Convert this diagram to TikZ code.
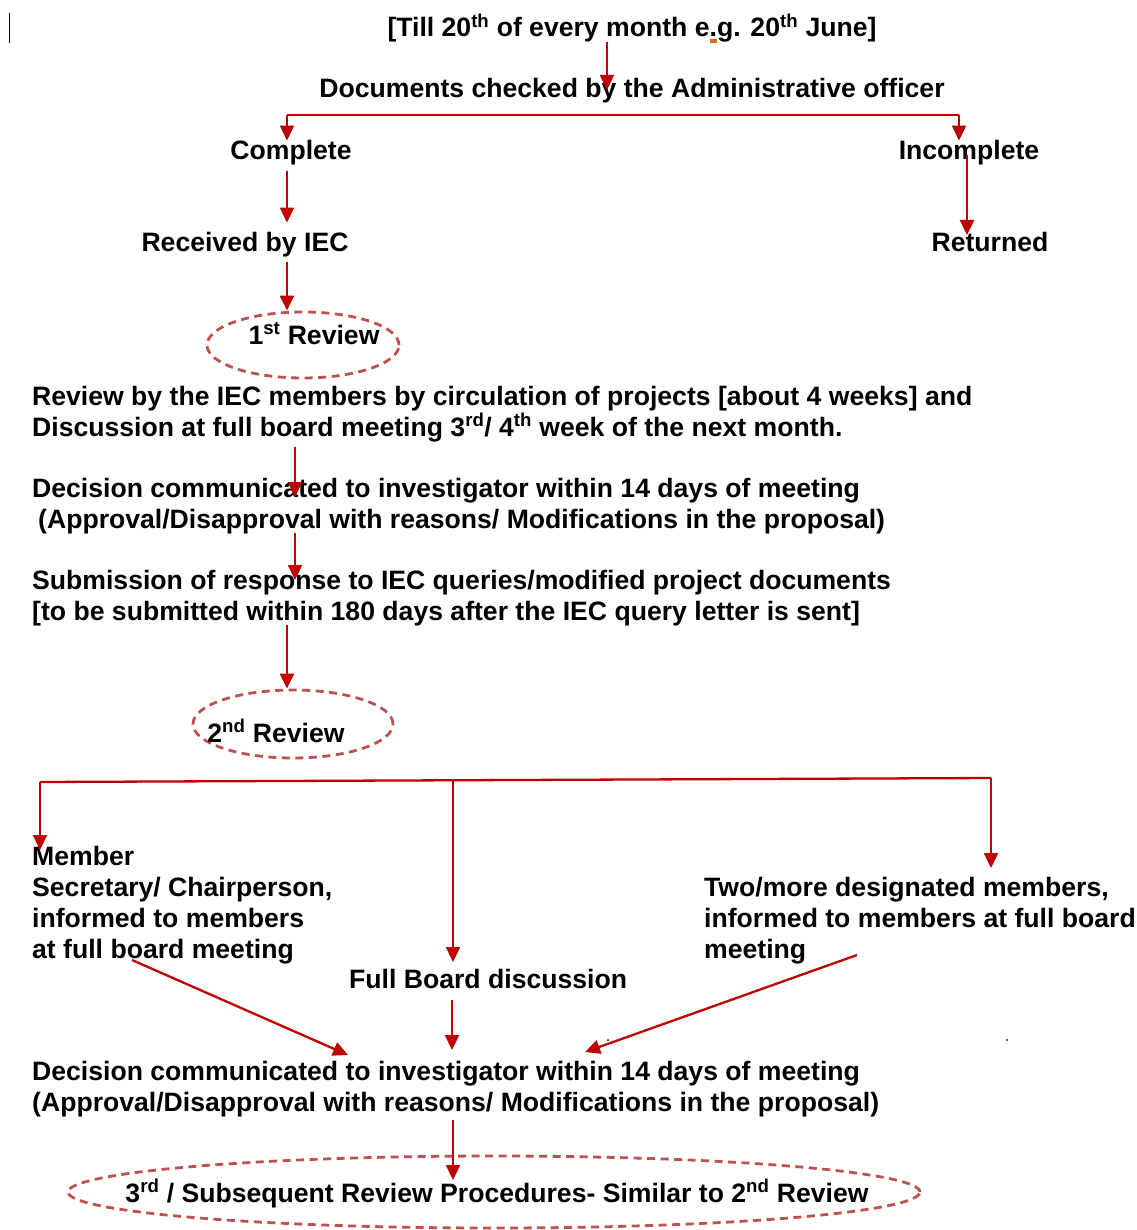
\documentclass[tikz,border=0pt]{standalone}
\usepackage{fontspec}
\setmainfont{Liberation Sans}
\usetikzlibrary{arrows.meta,shapes.geometric,calc}
\definecolor{arrred}{RGB}{192,0,0}
\definecolor{ovalred}{RGB}{192,80,77}
\definecolor{egorange}{RGB}{227,108,9}
\tikzset{
  txt/.style={font=\bfseries\fontsize{26.6}{30.7}\selectfont,inner sep=0pt},
  lefttxt/.style={txt,anchor=base west,align=left},
  arr/.style={draw=arrred,line width=2.3pt,-{Triangle[length=15pt,width=14pt]}},
  ln/.style={draw=arrred,line width=2.3pt},
  oval/.style={draw=ovalred,line width=2.8pt,dash pattern=on 8pt off 5.5pt,ellipse,inner sep=0pt},
}
\begin{document}
\begin{tikzpicture}[x=1pt,y=-1pt]
\useasboundingbox (0,0) rectangle (1136,1230);
%cursor mark
\draw[line width=1pt](9,13)--(9,43);
%top part
\node[txt,anchor=base] (till) at (632,37) {[Till 20\textsuperscript{th} of every month e\makebox[0pt][l]{\color{egorange}\rule[-6pt]{7pt}{3.5pt}}.g. 20\textsuperscript{th} June]};
\node[txt,anchor=base] (docs) at (632,98) {Documents checked by the Administrative officer};
\node[txt,anchor=base] (complete) at (291,160) {Complete};
\node[txt,anchor=base] (incomplete) at (969,160) {Incomplete};
\node[txt,anchor=base] (received) at (245,252) {Received by IEC};
\node[txt,anchor=base] (returned) at (990,252) {Returned};
%first review
\node[oval,minimum width=192pt,minimum height=66pt] (rev1) at (303,345) {};
\node[txt,anchor=base] (rev1txt) at (314,344) {1\textsuperscript{st} Review};
\node[lefttxt] (circ) at (32,436) {Review by the IEC members by circulation of projects [about 4 weeks] and\\Discussion at full board meeting 3\textsuperscript{rd}/ 4\textsuperscript{th} week of the next month.};
\node[lefttxt] (dec1) at (32,528) {Decision communicated to investigator within 14 days of meeting\\\hspace*{6pt}(Approval/Disapproval with reasons/ Modifications in the proposal)};
\node[lefttxt] (subm) at (32,620) {Submission of response to IEC queries/modified project documents\\{}[to be submitted within 180 days after the IEC query letter is sent]};
%second review
\node[oval,minimum width=200pt,minimum height=68pt] (rev2) at (293,724) {};
\node[txt,anchor=base] (rev2txt) at (276,742) {2\textsuperscript{nd} Review};
\node[lefttxt] (member) at (32,958) {Member\\Secretary/ Chairperson,\\informed to members\\at full board meeting};
\node[lefttxt] (twomore) at (704,958) {Two/more designated members,\\informed to members at full board\\meeting};
\node[lefttxt] (fullboard) at (349,988) {Full Board discussion};
\node[lefttxt] (dec2) at (32,1111) {Decision communicated to investigator within 14 days of meeting\\(Approval/Disapproval with reasons/ Modifications in the proposal)};
%third review
\node[oval,minimum width=852pt,minimum height=72pt] (rev3) at (494,1192) {};
\node[txt,anchor=base] (rev3txt) at (497,1202) {3\textsuperscript{rd} / Subsequent Review Procedures- Similar to 2\textsuperscript{nd} Review};
%coordinates
\coordinate (c1) at (287,115);
\coordinate (c2) at (959,115);
\coordinate (c3) at (287,625);
\coordinate (c4) at (40,782);
\coordinate (c5) at (991,778);
\coordinate (c6) at (453,780);
\coordinate (c7) at (132,960);
\coordinate (c8) at (857,955);
%connectors
\draw[arr] (607,42) -- (607,90);
\draw[ln] (c1) -- (c2);
\draw[arr] (c1) -- (c1 |- complete.north);
\draw[arr] (c2) -- (c2 |- incomplete.north);
\draw[arr] ([yshift=-5pt]c1 |- complete.south) -- ([yshift=10pt]c1 |- received.north);
\draw[arr] (967,155) -- (967,235);
\draw[arr] ([yshift=-4pt]c1 |- received.south) -- (c1 |- rev1.north);
\draw[arr] (295,447) -- (295,497);
\draw[arr] (295,533) -- (295,580);
\draw[arr] (c3) -- (c3 |- rev2.north);
\draw[ln] (c4) -- (c5);
\draw[arr] (c4) -- (40,850);
\draw[arr] (c5) -- (991,868);
\draw[arr] (c6) -- (453,962);
\draw[arr] (c7) -- (348,1055);
\draw[arr] (452,1000) -- (452,1050);
\draw[arr] (c8) -- (585,1052);
\draw[arr] (453,1120) -- (453,1180);
%stray dots
\fill (608,1040) circle (1pt);
\fill (1007,1040) circle (1pt);
\end{tikzpicture}
\end{document}
